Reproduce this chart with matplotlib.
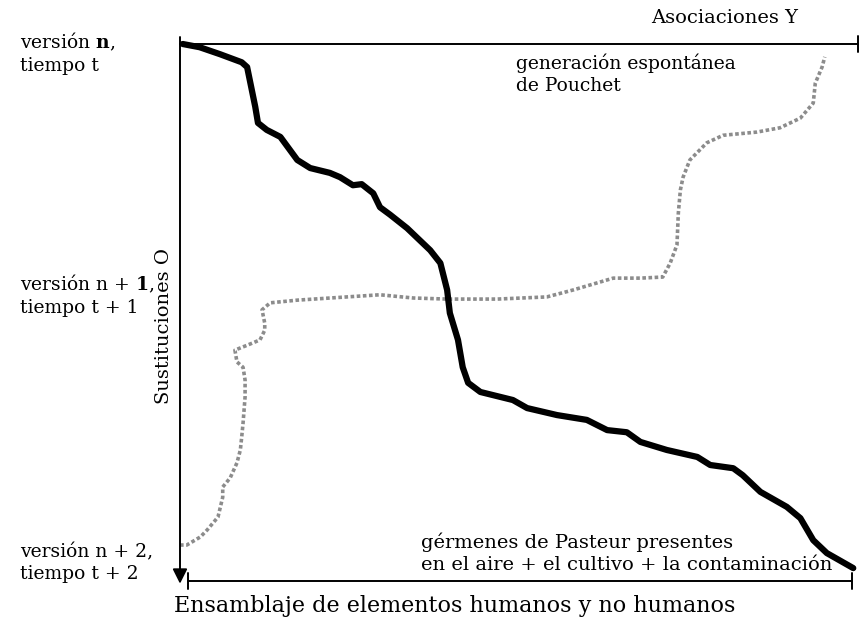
import numpy as np
import matplotlib.pyplot as plt

# black curve: Pasteur's germs (x = associations, y = substitutions, 0 at top)
pasteur_x = [0.4, 2.9, 5.9, 9.1, 9.9, 11.1, 11.5, 12.8, 14.8, 17.3, 19.2, 22.1, 23.6,
             25.5, 26.8, 28.5, 29.5, 31.0, 33.5, 36.9, 38.4, 39.4, 39.8, 41.0, 41.7,
             42.5, 44.3, 49.1, 51.2, 55.6, 60.0, 63.0, 65.9, 67.9, 71.8, 76.3, 78.2,
             81.6, 83.0, 85.6, 89.5, 91.5, 93.4, 95.4, 99.3]
pasteur_y = [0.0, 0.6, 1.9, 3.4, 4.3, 11.7, 14.7, 16.0, 17.3, 21.6, 23.1, 24.0, 24.8,
             26.3, 26.1, 27.8, 30.4, 31.8, 34.3, 38.4, 40.8, 45.8, 50.1, 55.1, 60.2,
             63.1, 64.8, 66.3, 67.8, 69.1, 70.0, 71.9, 72.3, 74.1, 75.6, 76.9, 78.4,
             79.0, 80.3, 83.4, 86.2, 88.3, 92.4, 94.8, 97.6]

# grey dotted curve: Pouchet's spontaneous generation
pouchet_x = [0.0, 1.0, 3.0, 4.0, 5.6, 6.3, 6.3, 7.4, 8.4, 8.9, 9.1, 9.3, 9.6, 9.6,
             9.3, 8.4, 8.1, 9.9, 11.8, 12.5, 12.5, 12.1, 13.3, 17.3, 24.6, 29.5, 34.4,
             39.4, 46.8, 54.1, 58.0, 63.9, 67.9, 71.2, 72.3, 73.3, 73.5, 73.8, 74.2,
             75.2, 77.7, 80.1, 85.1, 88.5, 91.5, 93.4, 93.7, 94.7, 95.1]
pouchet_y = [93.3, 93.3, 91.8, 90.5, 88.1, 84.4, 82.5, 80.8, 78.0, 75.6, 73.2, 70.6,
             65.7, 62.6, 60.2, 59.2, 57.0, 56.1, 55.1, 53.3, 52.0, 49.5, 48.2, 47.7,
             47.1, 46.7, 47.3, 47.5, 47.5, 47.1, 45.8, 43.6, 43.6, 43.4, 40.8, 37.4,
             31.5, 27.2, 24.8, 21.6, 18.4, 17.0, 16.4, 15.6, 13.8, 11.0, 7.3, 4.3, 2.4]

version_labels = ['versión $\\mathbf{n}$,\ntiempo t',
                  'versión n + $\\mathbf{1}$,\ntiempo t + 1',
                  'versión n + 2,\ntiempo t + 2']
version_ypix = [53, 295, 563]

plt.rcParams['mathtext.fontset'] = 'dejavuserif'

W, H = 861, 623
fig = plt.figure(figsize=(W / 100, H / 100), dpi=100)
ax = fig.add_axes([180 / W, 1 - 581 / H, 678 / W, 537 / H])
ax.set_xlim(0, 100)
ax.set_ylim(100, 0)
ax.axis('off')

font = dict(family='DejaVu Serif', fontsize=14, color='black')

# axes drawn by hand like the original sketch
ax.annotate('', xy=(0, 100.5), xytext=(0, -1.3), annotation_clip=False,
            arrowprops=dict(arrowstyle='-|>', color='black', lw=1.4,
                            mutation_scale=22, shrinkA=0, shrinkB=0))
ax.annotate('', xy=(100, 0), xytext=(0, 0), annotation_clip=False,
            arrowprops=dict(arrowstyle='|-|, widthA=0, widthB=0.6', color='black',
                            lw=1.4, mutation_scale=10, shrinkA=0, shrinkB=0))
ax.annotate('', xy=(99.1, 100), xytext=(1.2, 100), annotation_clip=False,
            arrowprops=dict(arrowstyle='|-|, widthA=0.6, widthB=0.6', color='black',
                            lw=1.4, mutation_scale=10, shrinkA=0, shrinkB=0))

ax.plot(pouchet_x, pouchet_y, color='#8c8c8c', lw=2.6, linestyle=(0, (1.0, 0.7)),
        solid_capstyle='round', clip_on=False)
ax.plot(pasteur_x, pasteur_y, color='black', lw=4.5, solid_joinstyle='round',
        solid_capstyle='round', clip_on=False)

for lab, yp in zip(version_labels, version_ypix):
    fig.text(20 / W, 1 - yp / H, lab, ha='left', va='center', linespacing=1.3,
             family='DejaVu Serif', fontsize=13.5)

fig.text(798 / W, 1 - 18 / H, 'Asociaciones Y', ha='right', va='center', **font)
fig.text(164 / W, 1 - 326 / H, 'Sustituciones O', ha='center', va='center',
         rotation=90, **font)
fig.text(516 / W, 1 - 74 / H, 'generación espontánea\nde Pouchet', ha='left',
         va='center', linespacing=1.3, family='DejaVu Serif', fontsize=13.5)
fig.text(421 / W, 1 - 553 / H, 'gérmenes de Pasteur presentes\n'
         'en el aire + el cultivo + la contaminación', ha='left', va='center',
         linespacing=1.3, **font)
fig.text(455 / W, 1 - 606 / H, 'Ensamblaje de elementos humanos y no humanos',
         ha='center', va='center', family='DejaVu Serif', fontsize=16)

fig.savefig('out.png', dpi=100, facecolor='white')
